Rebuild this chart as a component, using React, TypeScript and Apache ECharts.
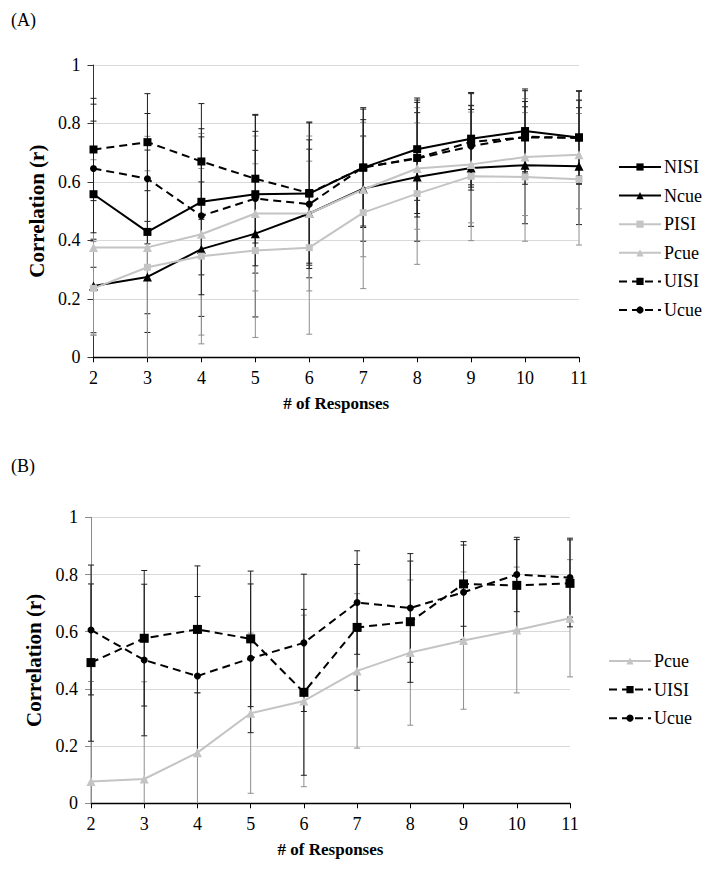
import React, { useEffect, useRef } from 'react';
import * as echarts from 'echarts';

// ---------- data ----------
const responses = ['2', '3', '4', '5', '6', '7', '8', '9', '10', '11'];

// Panel A: mean correlations
const nisiA = [0.558, 0.429, 0.532, 0.558, 0.560, 0.649, 0.712, 0.748, 0.774, 0.752];
const ncueA = [0.244, 0.275, 0.370, 0.423, 0.492, 0.577, 0.617, 0.648, 0.657, 0.654];
const pisiA = [0.236, 0.308, 0.346, 0.365, 0.375, 0.495, 0.560, 0.619, 0.617, 0.609];
const pcueA = [0.376, 0.376, 0.421, 0.492, 0.492, 0.574, 0.646, 0.660, 0.685, 0.693];
const uisiA = [0.711, 0.736, 0.670, 0.611, 0.562, 0.649, 0.682, 0.737, 0.752, 0.752];
const ucueA = [0.646, 0.611, 0.484, 0.543, 0.524, 0.650, 0.680, 0.722, 0.755, 0.750];

// Panel A: error bar half-widths (SD)
const nisiAErr = [0.25, 0.28, 0.25, 0.27, 0.245, 0.205, 0.175, 0.158, 0.144, 0.158];
const ncueAErr = [0.16, 0.19, 0.23, 0.285, 0.22, 0.18, 0.22, 0.2, 0.2, 0.2];
const pisiAErr = [0.16, 0.33, 0.30, 0.297, 0.296, 0.26, 0.242, 0.22, 0.22, 0.225];
const pcueAErr = [0.30, 0.38, 0.345, 0.265, 0.265, 0.23, 0.208, 0.2, 0.2, 0.185];
const uisiAErr = [0.175, 0.166, 0.198, 0.22, 0.24, 0.2, 0.19, 0.165, 0.16, 0.16];
const ucueAErr = [0.22, 0.223, 0.27, 0.23, 0.22, 0.163, 0.2, 0.14, 0.12, 0.13];

// Panel B: mean correlations
const pcueB = [0.076, 0.085, 0.177, 0.315, 0.358, 0.463, 0.527, 0.569, 0.606, 0.647];
const uisiB = [0.492, 0.577, 0.608, 0.575, 0.388, 0.615, 0.635, 0.767, 0.762, 0.769];
const ucueB = [0.606, 0.501, 0.445, 0.507, 0.561, 0.702, 0.683, 0.738, 0.800, 0.789];

// Panel B: error bar half-widths (SD)
const pcueBErr = [0.35, 0.34, 0.21, 0.28, 0.30, 0.27, 0.254, 0.24, 0.22, 0.205];
const uisiBErr = [0.275, 0.237, 0.222, 0.237, 0.29, 0.22, 0.212, 0.148, 0.16, 0.152];
const ucueBErr = [0.227, 0.265, 0.278, 0.26, 0.24, 0.181, 0.19, 0.165, 0.13, 0.138];

const legendA = ['NISI', 'Ncue', 'PISI', 'Pcue', 'UISI', 'Ucue'];
const legendB = ['Pcue', 'UISI', 'Ucue'];

// ---------- styles ----------
const FONT = '"Liberation Serif", "Times New Roman", serif';
const BLACK = '#000000';
const GRAY = '#c4c4c4';
const ERR_BLACK = '#1e1e1e';
const ERR_GRAY = '#8e8e8e';
const GRID_COLOR = '#d9d9d9';

type Def = {
  name: string;
  mean: number[];
  err: number[];
  color: string;
  errColor: string;
  symbol: string;
  symbolSize: number;
  dashed: boolean;
};

const defsA: Def[] = [
  { name: 'NISI', mean: nisiA, err: nisiAErr, color: BLACK, errColor: ERR_BLACK, symbol: 'rect', symbolSize: 8, dashed: false },
  { name: 'Ncue', mean: ncueA, err: ncueAErr, color: BLACK, errColor: ERR_BLACK, symbol: 'triangle', symbolSize: 9, dashed: false },
  { name: 'PISI', mean: pisiA, err: pisiAErr, color: GRAY, errColor: ERR_GRAY, symbol: 'rect', symbolSize: 7, dashed: false },
  { name: 'Pcue', mean: pcueA, err: pcueAErr, color: GRAY, errColor: ERR_GRAY, symbol: 'triangle', symbolSize: 9, dashed: false },
  { name: 'UISI', mean: uisiA, err: uisiAErr, color: BLACK, errColor: ERR_BLACK, symbol: 'rect', symbolSize: 8, dashed: true },
  { name: 'Ucue', mean: ucueA, err: ucueAErr, color: BLACK, errColor: ERR_BLACK, symbol: 'circle', symbolSize: 7, dashed: true },
];

const defsB: Def[] = [
  { name: 'Pcue', mean: pcueB, err: pcueBErr, color: GRAY, errColor: ERR_GRAY, symbol: 'triangle', symbolSize: 9, dashed: false },
  { name: 'UISI', mean: uisiB, err: uisiBErr, color: BLACK, errColor: ERR_BLACK, symbol: 'rect', symbolSize: 9, dashed: true },
  { name: 'Ucue', mean: ucueB, err: ucueBErr, color: BLACK, errColor: ERR_BLACK, symbol: 'circle', symbolSize: 7, dashed: true },
];

function lineSeries(d: Def, idx: number) {
  return {
    type: 'line',
    name: d.name,
    xAxisIndex: idx,
    yAxisIndex: idx,
    data: d.mean,
    symbol: d.symbol,
    symbolSize: d.symbolSize,
    showSymbol: true,
    lineStyle: { color: d.color, width: 2, type: d.dashed ? [8, 5] : 'solid' },
    itemStyle: { color: d.color },
    z: 3,
    silent: true,
  };
}

function errorSeries(d: Def, idx: number) {
  const color = d.errColor;
  return {
    type: 'custom',
    name: d.name + ' err ' + idx,
    xAxisIndex: idx,
    yAxisIndex: idx,
    data: d.mean.map((m, i) => [i, m, d.err[i]]),
    encode: { x: 0, y: 1 },
    z: 2,
    silent: true,
    renderItem: (_params: any, api: any) => {
      const x = api.value(0);
      const m = api.value(1);
      const e = api.value(2);
      const hi = m + e;
      const lo = m - e;
      const pHi = api.coord([x, Math.min(hi, 1)]);
      const pLo = api.coord([x, Math.max(lo, 0)]);
      const style = { stroke: color, lineWidth: 1 };
      const children: any[] = [
        { type: 'line', shape: { x1: pHi[0], y1: pHi[1], x2: pLo[0], y2: pLo[1] }, style },
      ];
      const cap = 3;
      if (hi <= 1) {
        children.push({ type: 'line', shape: { x1: pHi[0] - cap, y1: pHi[1], x2: pHi[0] + cap, y2: pHi[1] }, style });
      }
      if (lo >= 0) {
        children.push({ type: 'line', shape: { x1: pLo[0] - cap, y1: pLo[1], x2: pLo[0] + cap, y2: pLo[1] }, style });
      }
      return { type: 'group', children };
    },
  };
}

function xAxis(idx: number) {
  return {
    gridIndex: idx,
    type: 'category',
    data: responses,
    boundaryGap: false,
    axisLine: { show: true, lineStyle: { color: '#000', width: 1.3 } },
    axisTick: { show: true, alignWithLabel: true, length: 5, lineStyle: { color: '#000' } },
    axisLabel: { fontFamily: FONT, fontSize: 18, color: '#000', margin: 12 },
    splitLine: { show: false },
    name: '# of Responses',
    nameLocation: 'middle',
    nameGap: 38,
    nameTextStyle: { fontFamily: FONT, fontSize: 17, fontWeight: 'bold', color: '#000' },
  };
}

function yAxis(idx: number, lineColor: string) {
  return {
    gridIndex: idx,
    type: 'value',
    min: 0,
    max: 1,
    interval: 0.2,
    axisLine: { show: true, lineStyle: { color: lineColor, width: 1 } },
    axisTick: { show: true, length: 6, lineStyle: { color: lineColor } },
    splitLine: { show: true, lineStyle: { color: GRID_COLOR, width: 1 } },
    axisLabel: { fontFamily: FONT, fontSize: 18, color: '#000', margin: 13 },
    name: 'Correlation (r)',
    nameLocation: 'middle',
    nameGap: 35,
    nameTextStyle: { fontFamily: FONT, fontSize: 21, fontWeight: 'bold', color: '#000' },
  };
}

function legend(data: string[], left: number, top: number) {
  return {
    orient: 'vertical',
    left,
    top,
    data,
    itemWidth: 42,
    itemHeight: 9,
    itemGap: 10.6,
    selectedMode: false,
    textStyle: { fontFamily: FONT, fontSize: 18, color: '#000', padding: [0, 0, 0, -2] },
  };
}

export default function App() {
  const ref = useRef<HTMLDivElement>(null);

  useEffect(() => {
    if (!ref.current) return;
    const chart = echarts.init(ref.current, undefined, { renderer: 'svg' });
    const option = {
      animation: false,
      backgroundColor: '#ffffff',
      title: [
        { text: '(A)', left: 6, top: 6, textStyle: { fontFamily: FONT, fontSize: 18, fontWeight: 'normal', color: '#000' } },
        { text: '(B)', left: 6, top: 452, textStyle: { fontFamily: FONT, fontSize: 18, fontWeight: 'normal', color: '#000' } },
      ],
      grid: [
        { left: 93.5, top: 65, width: 485.5, height: 292.3, containLabel: false },
        { left: 91, top: 517.3, width: 479, height: 286, containLabel: false },
      ],
      xAxis: [xAxis(0), xAxis(1)],
      yAxis: [yAxis(0, '#333333'), yAxis(1, '#8a8a8a')],
      legend: [legend(legendA, 613, 153), legend(legendB, 603, 647)],
      series: [
        ...defsA.map((d) => errorSeries(d, 0)),
        ...defsA.map((d) => lineSeries(d, 0)),
        ...defsB.map((d) => errorSeries(d, 1)),
        ...defsB.map((d) => lineSeries(d, 1)),
      ],
    };
    chart.setOption(option as any);
    return () => chart.dispose();
  }, []);

  return (
    <div
      ref={ref}
      style={{ position: 'fixed', left: 0, top: 0, width: 704, height: 869, background: '#fff' }}
    />
  );
}
